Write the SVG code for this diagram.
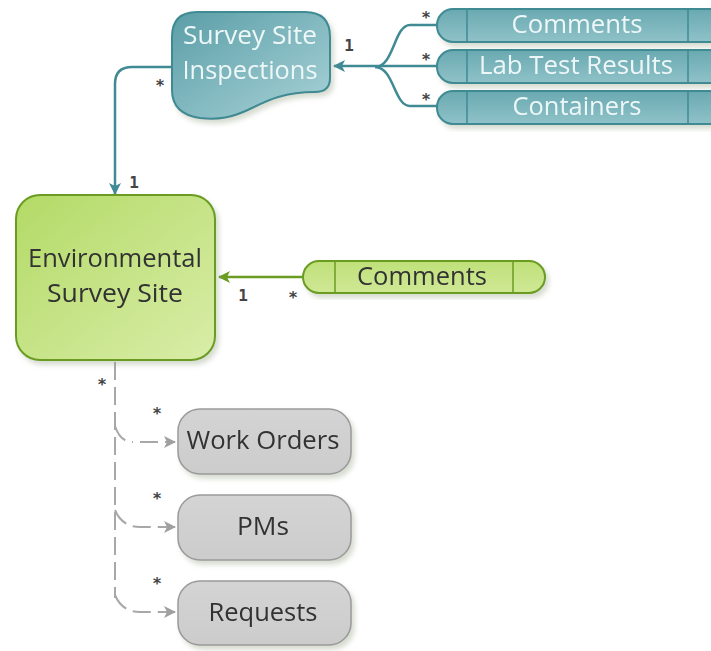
<svg xmlns="http://www.w3.org/2000/svg" width="711" height="651" viewBox="0 0 711 651">
<defs>
<linearGradient id="gTeal" x1="0" y1="0" x2="1" y2="1"><stop offset="0" stop-color="#5b9ea7"/><stop offset="1" stop-color="#a9d3d8"/></linearGradient>
<linearGradient id="gTealPill" x1="0" y1="0" x2="0" y2="1"><stop offset="0" stop-color="#6aa9b1"/><stop offset="1" stop-color="#8fc2c8"/></linearGradient>
<linearGradient id="gGreen" x1="0" y1="0" x2="1" y2="1"><stop offset="0" stop-color="#b3da66"/><stop offset="1" stop-color="#d9eda8"/></linearGradient>
<linearGradient id="gGreenPill" x1="0" y1="0" x2="0" y2="1"><stop offset="0" stop-color="#bfe07a"/><stop offset="1" stop-color="#cfe895"/></linearGradient>
<linearGradient id="gGray" x1="0" y1="0" x2="0" y2="1"><stop offset="0" stop-color="#d4d4d4"/><stop offset="1" stop-color="#cccccc"/></linearGradient>
<filter id="sh" x="-10%" y="-10%" width="130%" height="130%"><feDropShadow dx="3" dy="4" stdDeviation="2.5" flood-color="#8a9a7a" flood-opacity="0.35"/></filter>
<marker id="aTeal" viewBox="0 0 12 12" refX="11" refY="6" markerWidth="12" markerHeight="12" markerUnits="userSpaceOnUse" orient="auto"><path d="M0 0 L12 6 L0 12 L3 6 Z" fill="#3f8a94"/></marker>
<marker id="aGreen" viewBox="0 0 12 12" refX="11" refY="6" markerWidth="12" markerHeight="12" markerUnits="userSpaceOnUse" orient="auto"><path d="M0 0 L12 6 L0 12 L3 6 Z" fill="#6a9c22"/></marker>
<marker id="aGray" viewBox="0 0 12 12" refX="11" refY="6" markerWidth="12" markerHeight="12" markerUnits="userSpaceOnUse" orient="auto"><path d="M0 0 L12 6 L0 12 L3 6 Z" fill="#a0a0a0"/></marker>
</defs>
<style>
.t{font-family:"Open Sans","Noto Sans","DejaVu Sans",sans-serif;font-size:25px;text-anchor:middle}
.tw{fill:#eef7f8}
.td{fill:#333}
.lbl{font-family:"DejaVu Sans Mono","Liberation Mono",monospace;font-size:16px;font-weight:bold;fill:#444;text-anchor:middle}
.teal{fill:url(#gTealPill);stroke:#3f8a94;stroke-width:2}
.tealdiv{stroke:#3f8a94;stroke-width:1.5}
.green{fill:url(#gGreenPill);stroke:#6a9c22;stroke-width:2}
.gray{fill:url(#gGray);stroke:#9a9a9a;stroke-width:1.5}
.cT{fill:none;stroke:#3f8a94;stroke-width:2.5}
.cG{fill:none;stroke:#6a9c22;stroke-width:2.5}
.cY{fill:none;stroke:#a8a8a8;stroke-width:2;stroke-dasharray:18 7}
</style>

<g id="connectors">
<path class="cT" d="M172 67 H132 Q115 67 115 84 V194" marker-end="url(#aTeal)"/>
<path class="cT" d="M437 25 H410 C394 25 394 67 375 67"/>
<path class="cT" d="M437 106 H410 C394 106 394 67 375 67"/>
<path class="cT" d="M437 66 H334" marker-end="url(#aTeal)"/>
<path class="cG" d="M303 277 H219" marker-end="url(#aGreen)"/>
<path class="cY" d="M115 362 V598"/>
<path class="cY" d="M115 426 Q120 442 133 442"/>
<path class="cY" d="M140 442 H175" stroke-dasharray="none" marker-end="url(#aGray)"/>
<path class="cY" d="M115 510 Q122 527 140 527 H175" stroke-dasharray="14 6" marker-end="url(#aGray)"/>
<path class="cY" d="M115 595 Q122 612 140 612 H175" stroke-dasharray="14 6" marker-end="url(#aGray)"/>
<text class="lbl" x="160" y="91">*</text>
<text class="lbl" x="134" y="188">1</text>
<text class="lbl" x="349" y="51">1</text>
<text class="lbl" x="426" y="23">*</text>
<text class="lbl" x="426" y="65">*</text>
<text class="lbl" x="426" y="105">*</text>
<text class="lbl" x="243" y="301">1</text>
<text class="lbl" x="293" y="303">*</text>
<text class="lbl" x="102" y="390">*</text>
<text class="lbl" x="157" y="419">*</text>
<text class="lbl" x="157" y="504">*</text>
<text class="lbl" x="157" y="589">*</text>
</g>

<g id="ssi" filter="url(#sh)">
<path d="M197 12 H305 Q330 12 330 37 V78 Q330 92 315 92 C285 92 268 100 252 108 C232 118 218 120 200 118 Q172 114 172 90 V37 Q172 12 197 12 Z" fill="url(#gTeal)" stroke="#3f8a94" stroke-width="2"/>
<text class="t tw" x="250" y="44" textLength="134" lengthAdjust="spacingAndGlyphs">Survey Site</text>
<text class="t tw" x="250" y="79" textLength="135" lengthAdjust="spacingAndGlyphs">Inspections</text>
</g>

<g id="ssi-comments" filter="url(#sh)">
<rect class="teal" x="437" y="9" width="300" height="33" rx="16"/>
<line class="tealdiv" x1="467" y1="9" x2="467" y2="42"/><line class="tealdiv" x1="688" y1="9" x2="688" y2="42"/>
<text class="t tw" x="577" y="33" textLength="131" lengthAdjust="spacingAndGlyphs">Comments</text>
</g>
<g id="ssi-lab" filter="url(#sh)">
<rect class="teal" x="437" y="50" width="300" height="33" rx="16"/>
<line class="tealdiv" x1="467" y1="50" x2="467" y2="83"/><line class="tealdiv" x1="688" y1="50" x2="688" y2="83"/>
<text class="t tw" x="576" y="74" textLength="194" lengthAdjust="spacingAndGlyphs">Lab Test Results</text>
</g>
<g id="ssi-containers" filter="url(#sh)">
<rect class="teal" x="437" y="91" width="300" height="33" rx="16"/>
<line class="tealdiv" x1="467" y1="91" x2="467" y2="124"/><line class="tealdiv" x1="688" y1="91" x2="688" y2="124"/>
<text class="t tw" x="577" y="115" textLength="129" lengthAdjust="spacingAndGlyphs">Containers</text>
</g>

<g id="ess" filter="url(#sh)">
<rect x="16" y="195" width="199" height="165" rx="24" fill="url(#gGreen)" stroke="#6a9c22" stroke-width="2"/>
<text class="t td" x="115" y="267" textLength="174" lengthAdjust="spacingAndGlyphs">Environmental</text>
<text class="t td" x="115" y="302" textLength="136" lengthAdjust="spacingAndGlyphs">Survey Site</text>
</g>

<g id="ess-comments" filter="url(#sh)">
<rect class="green" x="303" y="261" width="242" height="32" rx="16"/>
<line stroke="#6a9c22" stroke-width="1.5" x1="335" y1="261" x2="335" y2="293"/><line stroke="#6a9c22" stroke-width="1.5" x1="513" y1="261" x2="513" y2="293"/>
<text class="t td" x="422" y="285" textLength="130" lengthAdjust="spacingAndGlyphs">Comments</text>
</g>

<g id="work-orders" filter="url(#sh)">
<rect class="gray" x="178" y="409" width="173" height="65" rx="22"/>
<text class="t td" x="263" y="449" textLength="153" lengthAdjust="spacingAndGlyphs">Work Orders</text>
</g>
<g id="pms" filter="url(#sh)">
<rect class="gray" x="178" y="495" width="173" height="65" rx="22"/>
<text class="t td" x="263" y="535" textLength="52" lengthAdjust="spacingAndGlyphs">PMs</text>
</g>
<g id="requests" filter="url(#sh)">
<rect class="gray" x="178" y="581" width="173" height="64" rx="22"/>
<text class="t td" x="263" y="621" textLength="109" lengthAdjust="spacingAndGlyphs">Requests</text>
</g>
</svg>
